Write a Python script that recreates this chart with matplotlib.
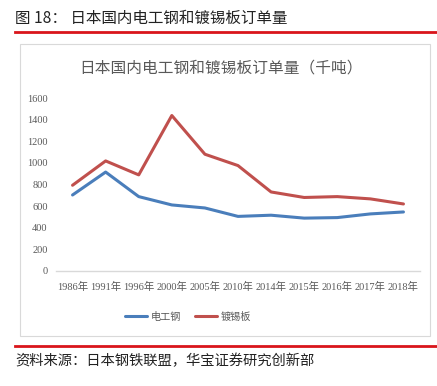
import matplotlib.pyplot as plt
from matplotlib.patches import Rectangle
from matplotlib.lines import Line2D

plt.rcParams['font.family'] = ['Noto Sans CJK SC', 'DejaVu Sans']

years = ['1986年', '1991年', '1996年', '2000年', '2005年', '2010年',
         '2014年', '2015年', '2016年', '2017年', '2018年']
electrical_steel = [703, 915, 688, 611, 583, 505, 516, 489, 494, 528, 546]
tinplate = [793, 1018, 889, 1438, 1080, 975, 731, 680, 688, 667, 620]
yticks = [0, 200, 400, 600, 800, 1000, 1200, 1400, 1600]

BLUE = '#4A7EBB'
RED = '#C0504D'
GRAY = '#595959'
num_font = ['Liberation Serif', 'Noto Sans CJK SC']

fig = plt.figure(figsize=(4.37, 3.86), dpi=100)
W, H = 437, 386

# header and footer
fig.text(15 / W, 1 - 18 / H, '图 18： 日本国内电工钢和镀锡板订单量', fontsize=11.2,
         color='#222222', va='center', ha='left')
fig.add_artist(Line2D([15 / W, 1], [1 - 32 / H] * 2, color='#D9151B', lw=2))
fig.add_artist(Line2D([15 / W, 1], [1 - 346 / H] * 2, color='#D9151B', lw=2))
fig.text(15 / W, 1 - 361 / H, '资料来源：日本钢铁联盟，华宝证券研究创新部', fontsize=10.3,
         color='#222222', va='center', ha='left')

# chart frame
fig.add_artist(Rectangle((20 / W, 1 - 336 / H), 410 / W, 292 / H, fill=False,
                         edgecolor='#D9D9D9', lw=0.8))
fig.text(221 / W, 1 - 68 / H, '日本国内电工钢和镀锡板订单量（千吨）', fontsize=11.3,
         color=GRAY, ha='center', va='center')

ax = fig.add_axes([56 / W, 1 - 271 / H, 364 / W, 173 / H])
x = range(len(years))
ax.plot(x, electrical_steel, color=BLUE, lw=2.2, label='电工钢', solid_capstyle='round')
ax.plot(x, tinplate, color=RED, lw=2.2, label='镀锡板', solid_capstyle='round')

ax.set_xlim(-0.5, len(years) - 0.5)
ax.set_ylim(0, 1600)
ax.set_yticks(yticks)
ax.set_yticklabels([str(v) for v in yticks], family=num_font, fontsize=7.5, color=GRAY)
ax.set_xticks(list(x))
ax.set_xticklabels(years, family=num_font, fontsize=7.5, color=GRAY)
ax.tick_params(axis='x', length=0, pad=8)
ax.tick_params(axis='y', length=0, pad=6)
for s in ['top', 'right', 'left']:
    ax.spines[s].set_visible(False)
ax.spines['bottom'].set_color('#D9D9D9')
ax.spines['bottom'].set_linewidth(1)

leg = ax.legend(loc='center', bbox_to_anchor=(0.363, -0.266), ncol=2, frameon=False,
                fontsize=7.3, handlelength=2.2, columnspacing=1.3, handletextpad=0.4)
for t in leg.get_texts():
    t.set_color(GRAY)

fig.savefig('out.png', dpi=100)
